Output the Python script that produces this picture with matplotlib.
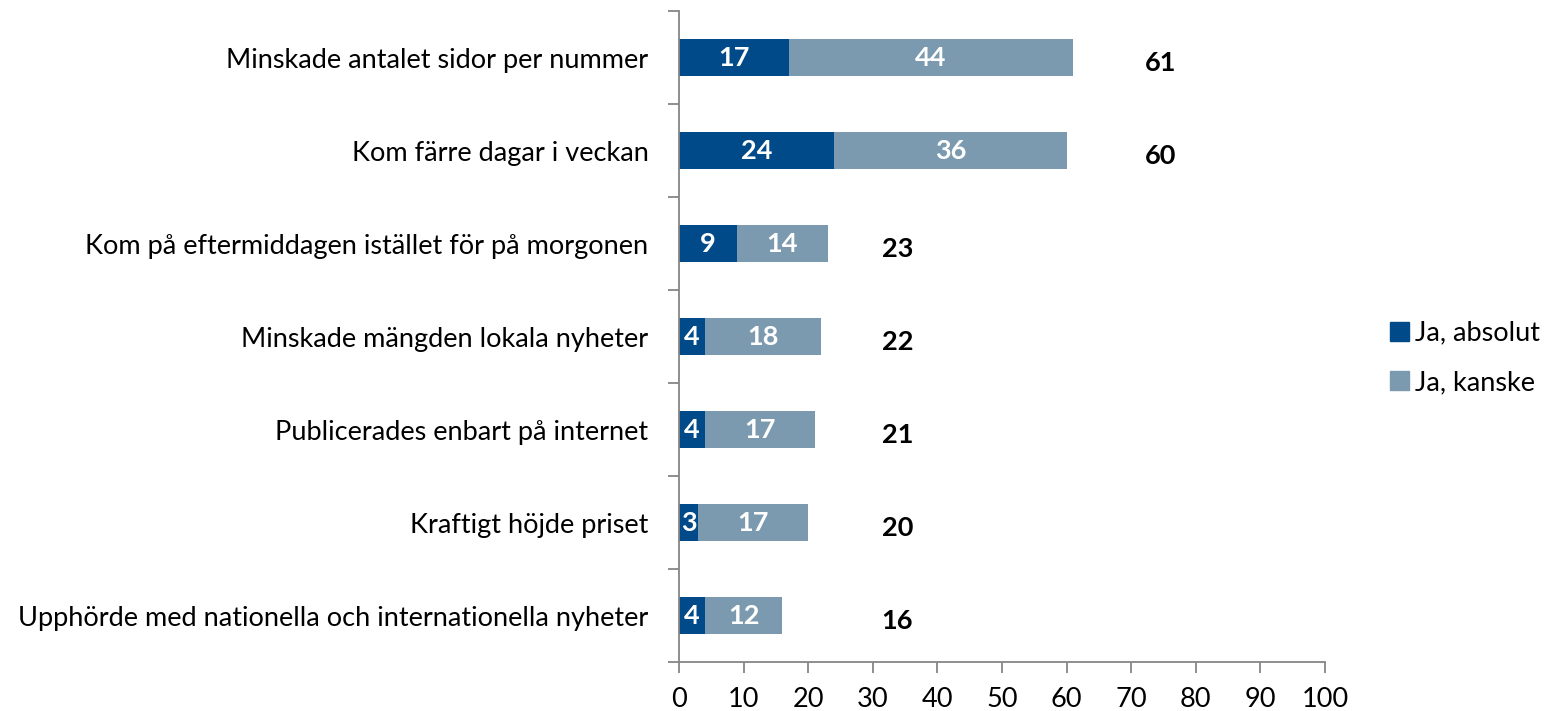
import numpy as np
import matplotlib.pyplot as plt
from matplotlib.patches import Patch

plt.rcParams['font.family'] = ['Lato', 'DejaVu Sans']

categories = [
    'Minskade antalet sidor per nummer',
    'Kom färre dagar i veckan',
    'Kom på eftermiddagen istället för på morgonen',
    'Minskade mängden lokala nyheter',
    'Publicerades enbart på internet',
    'Kraftigt höjde priset',
    'Upphörde med nationella och internationella nyheter',
]
ja_absolut = [17, 24, 9, 4, 4, 3, 4]
ja_kanske = [44, 36, 14, 18, 17, 17, 12]
totals = [61, 60, 23, 22, 21, 20, 16]
series_names = ['Ja, absolut', 'Ja, kanske']

c_dark = '#004a89'
c_light = '#7b9aaf'
axis_col = '#868686'
fs = 19.5

fig = plt.figure(figsize=(15.46, 7.11), dpi=100)
ax = fig.add_axes([0.4392, 0.0689, 0.4179, 0.9156])

y = np.arange(len(categories))
ax.barh(y, ja_absolut, height=0.4, color=c_dark)
ax.barh(y, ja_kanske, left=ja_absolut, height=0.4, color=c_light)

for i in range(len(categories)):
    a, k = ja_absolut[i], ja_kanske[i]
    ax.text(a / 2, i, str(a), ha='center', va='center', color='white',
            fontsize=fs, fontweight='bold')
    ax.text(a + k / 2, i, str(k), ha='center', va='center', color='white',
            fontsize=fs, fontweight='bold')
    # totals sit in two columns, like the original
    tx = 74.6 if totals[i] > 30 else 33.8
    ax.text(tx, i + 0.06, str(totals[i]), ha='center', va='center', color='black',
            fontsize=fs, fontweight='bold')

ax.set_xlim(0, 100)
ax.set_ylim(len(categories) - 0.5, -0.5)
ax.set_xticks(np.arange(0, 101, 10))
ax.set_yticks(y)
ax.set_yticklabels(categories, fontsize=fs)
ax.set_yticks(np.arange(-0.5, len(categories), 1), minor=True)
ax.tick_params(axis='y', which='major', length=0, pad=22)
ax.tick_params(axis='y', which='minor', length=8, color=axis_col, width=1.3)
ax.tick_params(axis='x', length=8, color=axis_col, width=1.3, labelsize=fs, pad=10)

for s in ['top', 'right']:
    ax.spines[s].set_visible(False)
for s in ['left', 'bottom']:
    ax.spines[s].set_color(axis_col)
    ax.spines[s].set_linewidth(1.3)

handles = [Patch(color=c_dark), Patch(color=c_light)]
fig.legend(handles, series_names, loc='center left',
           bbox_to_anchor=(1366 / 1546, 1 - 358 / 711), frameon=False,
           fontsize=fs, handlelength=0.7, handleheight=0.7, handletextpad=0.2,
           labelspacing=0.9)

fig.savefig('out.png', dpi=100)
